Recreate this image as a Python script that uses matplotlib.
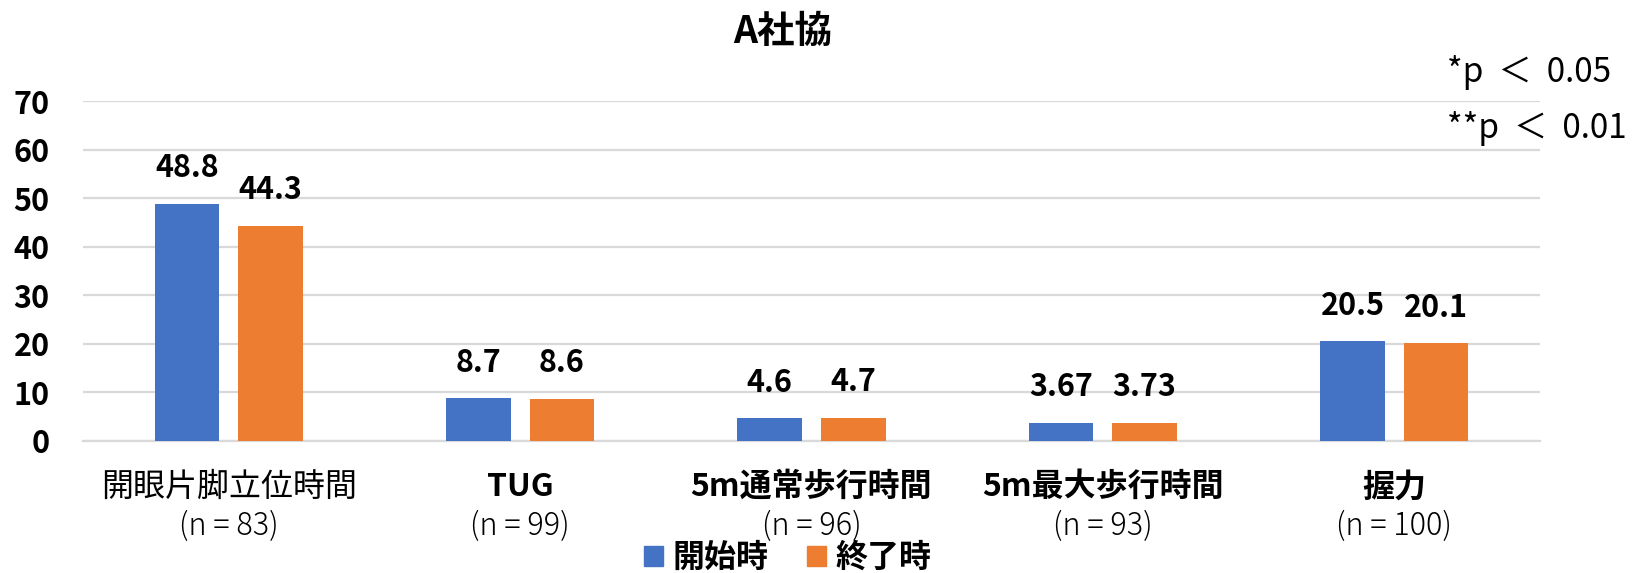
import numpy as np
import matplotlib
matplotlib.use("Agg")
import matplotlib.pyplot as plt
from matplotlib.patches import Patch

plt.rcParams['font.family'] = ['Noto Sans CJK JP', 'DejaVu Sans']

# データ
categories = ['開眼片脚立位時間', 'TUG', '5m通常歩行時間', '5m最大歩行時間', '握力']
n_labels = ['(n = 83)', '(n = 99)', '(n = 96)', '(n = 93)', '(n = 100)']
start_vals = [48.8, 8.7, 4.6, 3.67, 20.5]
end_vals = [44.3, 8.6, 4.7, 3.73, 20.1]
start_text = ['48.8', '8.7', '4.6', '3.67', '20.5']
end_text = ['44.3', '8.6', '4.7', '3.73', '20.1']
series_names = ['開始時', '終了時']
yticks = [0, 10, 20, 30, 40, 50, 60, 70]

blue = '#4472C4'
orange = '#ED7D31'
grid_c = '#D9D9D9'

fig = plt.figure(figsize=(16.37, 5.73), dpi=100)
ax = fig.add_axes([0.0507, 0.231, 0.89, 0.5927])

x = np.arange(len(categories))
w = 0.222
off = 0.1435
b1 = ax.bar(x - off, start_vals, w, color=blue, zorder=3)
b2 = ax.bar(x + off, end_vals, w, color=orange, zorder=3)

# 値ラベル
for rects, labels in [(b1, start_text), (b2, end_text)]:
    for r, t in zip(rects, labels):
        ax.annotate(t, (r.get_x() + r.get_width() / 2, r.get_height()),
                    xytext=(0, 14), textcoords='offset points',
                    ha='center', va='bottom', fontsize=22, fontweight='bold')

ax.set_xlim(-0.5, len(categories) - 0.5)
ax.set_ylim(0, 70)
ax.set_yticks(yticks)
ax.set_yticklabels([str(v) for v in yticks], fontsize=22, fontweight='bold')
ax.tick_params(axis='y', length=0, pad=24)
ax.set_xticks([])
ax.yaxis.grid(True, color=grid_c, linewidth=1.6, zorder=0)
for s in ['top', 'right', 'left']:
    ax.spines[s].set_visible(False)
ax.spines['bottom'].set_color(grid_c)
ax.spines['bottom'].set_linewidth(1.6)

# カテゴリラベル
trans = matplotlib.transforms.blended_transform_factory(ax.transData, ax.transAxes)
weights = ['normal', 'bold', 'bold', 'bold', 'bold']
for i, (c, n) in enumerate(zip(categories, n_labels)):
    ax.text(i, -0.137, c, transform=trans, ha='center', va='center',
            fontsize=23, fontweight=weights[i])
    ax.text(i, -0.252, n, transform=trans, ha='center', va='center',
            fontsize=22, fontweight='light')

# タイトル
fig.text(783 / 1637, 1 - 31 / 573, 'A社協', ha='center', va='center',
         fontsize=27, fontweight='bold')

# 有意水準
fig.text(1447 / 1637, 1 - 72 / 573, '*p  ＜  0.05', ha='left', va='center', fontsize=24)
fig.text(1447 / 1637, 1 - 128 / 573, '**p  ＜  0.01', ha='left', va='center', fontsize=24)

# 凡例
handles = [Patch(color=blue), Patch(color=orange)]
leg = fig.legend(handles, series_names, loc='center', bbox_to_anchor=(788 / 1637, 1 - 558 / 573),
                 ncol=2, frameon=False, handlelength=0.6, handleheight=0.6,
                 handletextpad=0.3, columnspacing=1.2, borderpad=0,
                 prop={'size': 23, 'weight': 'bold'})

fig.savefig('out.png', dpi=100)
